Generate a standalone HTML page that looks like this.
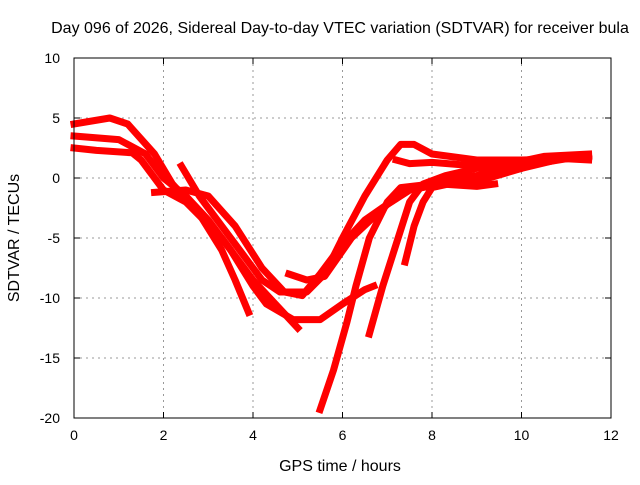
<!DOCTYPE html>
<html><head><meta charset="utf-8"><style>
body{margin:0;background:#fff}
svg text{font-family:"Liberation Sans",sans-serif;font-size:14px;fill:#000}
svg text.big{font-size:16px}
</style></head><body>
<svg id="chart" width="640" height="480">
<rect width="640" height="480" fill="#fff"/>
<text class="big" x="340" y="33" text-anchor="middle">Day 096 of 2026, Sidereal Day-to-day VTEC variation (SDTVAR) for receiver bula</text>
<g id="grid"></g><g id="series"></g><g id="axes"></g>
<text class="big" x="340" y="471" text-anchor="middle">GPS time / hours</text>
<text class="big" transform="translate(19,238) rotate(-90)" text-anchor="middle">SDTVAR / TECUs</text>
</svg>
<script>
const xTicks=[0,2,4,6,8,10,12];
const yTicks=[10,5,0,-5,-10,-15,-20];
const sA=[[0,4.5],[0.8,5],[1.2,4.5],[1.8,2],[2.2,-0.5],[2.8,-3],[3.3,-6],[3.6,-8.5],[3.9,-11.2]];
const sB=[[0,3.5],[1,3.2],[1.6,2],[2,0],[2.5,-1.5],[3,-3.5],[3.5,-6],[4,-9],[4.3,-10.5],[4.9,-11.8],[5.5,-11.8],[6,-10.5],[6.5,-9.3],[6.7,-9]];
const sC=[[0,2.5],[0.5,2.3],[1.3,2.1],[1.5,1.5],[2,-1],[2.5,-2],[3.3,-5],[4,-8.5],[4.5,-10.5],[5,-12.5]];
const sD=[[2.4,1],[2.8,-1.5],[3.3,-4],[3.8,-6.5],[4.2,-8.5],[4.6,-9.5],[5.2,-9.5],[5.6,-8],[6,-5],[6.5,-1.5],[7,1.5],[7.3,2.8],[7.6,2.8],[8,2],[9,1.5],[10,1.5],[11,1.6],[11.5,1.5]];
const sE=[[1.8,-1.2],[2.5,-1],[3,-1.5],[3.6,-4],[4.2,-7.5],[4.7,-9.5],[5.1,-9.8],[5.5,-8],[6,-5.5],[6.5,-3.5],[7,-2.2],[7.5,-1],[8,-0.3],[9,0.2],[10,1],[11,1.6],[11.5,1.8]];
const sF=[[4.8,-8],[5.2,-8.5],[5.6,-8.2],[6.2,-5],[7,-2.2],[7.5,-1],[8.2,-0.5],[9,-0.7],[9.4,-0.5]];
const sG=[[5.5,-19.3],[5.8,-16],[6.1,-12],[6.3,-9],[6.6,-5],[7,-2],[7.3,-0.8],[8,-0.5],[9,-0.3],[10,0.8],[10.3,1.5]];
const sH=[[6.6,-13],[6.9,-9],[7.2,-5.5],[7.5,-2],[7.8,-0.5],[8.3,0.2],[9,0.8],[9.5,1],[10.5,1.8],[11.5,2]];
const sI=[[7.4,-7],[7.6,-4],[7.8,-2],[8,-0.8],[9,0],[10,0.8],[11,1.7],[11.5,1.6]];
const sJ=[[7.2,1.5],[7.5,1.2],[8,1.3],[9,1],[10,1.3]];
const allSeries=[sA,sB,sC,sD,sE,sF,sG,sH,sI,sJ];
const X0=74,X1=611,Y0=58,Y1=418;
const sx=v=>X0+(v-0)/12*(X1-X0);
const sy=v=>Y1-(v+20)/30*(Y1-Y0);
const NS="http://www.w3.org/2000/svg";
function mk(t,a,p){const e=document.createElementNS(NS,t);for(const k in a)e.setAttribute(k,a[k]);p.appendChild(e);return e;}
const g=document.getElementById('grid'),ax=document.getElementById('axes'),se=document.getElementById('series');
xTicks.forEach(t=>{const x=sx(t);
 if(t>0&&t<12){const l=mk('line',{x1:x,x2:x,y1:Y0,y2:Y1,stroke:'#999','stroke-dasharray':'2,4'},g);
 
 }
 mk('line',{x1:x,x2:x,y1:Y1,y2:Y1-6,stroke:'#000'},ax);mk('line',{x1:x,x2:x,y1:Y0,y2:Y0+6,stroke:'#000'},ax);
 const tx=mk('text',{x:x,y:Y1+22,'text-anchor':'middle'},ax);tx.textContent=t;
 
 });
yTicks.forEach(t=>{const y=sy(t);
 if(t>-20&&t<10){const l=mk('line',{x1:X0,x2:X1,y1:y,y2:y,stroke:'#999','stroke-dasharray':'2,4'},g);
 
 }
 mk('line',{x1:X0,x2:X0+6,y1:y,y2:y,stroke:'#000'},ax);mk('line',{x1:X1,x2:X1-6,y1:y,y2:y,stroke:'#000'},ax);
 const tx=mk('text',{x:X0-14,y:y+5,'text-anchor':'end'},ax);tx.textContent=t;
 
 });
const fr=mk('rect',{x:X0,y:Y0,width:X1-X0,height:Y1-Y0,fill:'none',stroke:'#000'},ax);


allSeries.forEach((s,i)=>{
 const p=mk('polyline',{points:s.map(d=>sx(d[0])+','+sy(d[1])).join(' '),fill:'none',stroke:'#f00','stroke-width':7,'stroke-linejoin':'round','stroke-linecap':'square'},se);
 
 
});
</script>
</body></html>
